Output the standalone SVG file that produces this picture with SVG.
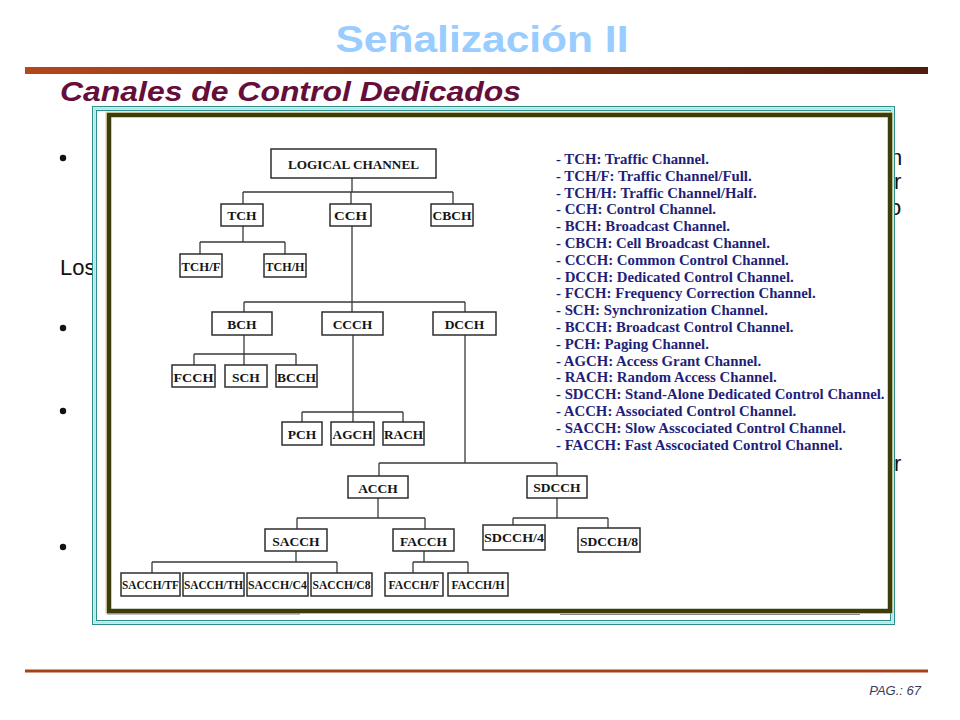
<svg xmlns="http://www.w3.org/2000/svg" width="960" height="720" viewBox="0 0 960 720">
<defs>
<linearGradient id="bar" x1="0" y1="0" x2="1" y2="0">
<stop offset="0" stop-color="#B4471B"/>
<stop offset="1" stop-color="#4F1C0B"/>
</linearGradient>
<style>
.bg{font-family:"Liberation Sans",Arial,sans-serif;font-size:22px;fill:#111}
.nb rect{fill:#fff;stroke:#2e2e2e;stroke-width:1.5}
.nb text{font-family:"Liberation Serif","Times New Roman",serif;font-weight:bold;font-size:13.5px;fill:#151515;text-anchor:middle}
.lg{font-family:"Liberation Serif","Times New Roman",serif;font-weight:bold;font-size:14.8px;fill:#1F1F7A}
#connectors path{fill:none;stroke:#3a3a3a;stroke-width:1.3}
</style>
</defs>
<rect width="960" height="720" fill="#fff"/>
<text x="482" y="52" text-anchor="middle" font-family="Liberation Sans,Arial,sans-serif" font-weight="bold" font-size="37" fill="#99CCFF" textLength="293" lengthAdjust="spacingAndGlyphs">Señalización II</text>
<rect x="25" y="67" width="903" height="7" fill="url(#bar)"/>
<text x="60" y="101" font-family="Liberation Sans,Arial,sans-serif" font-weight="bold" font-style="italic" font-size="27" fill="#650E3A" textLength="461" lengthAdjust="spacingAndGlyphs">Canales de Control Dedicados</text>

<g id="background-text">
<circle cx="63" cy="158" r="3.2" fill="#111"/>
<circle cx="63" cy="328" r="3.2" fill="#111"/>
<circle cx="63" cy="411" r="3.2" fill="#111"/>
<circle cx="63" cy="547" r="3.2" fill="#111"/>
<text class="bg" x="60" y="275">Los</text>
<text class="bg" x="890" y="165">n</text>
<text class="bg" x="894" y="189">r</text>
<text class="bg" x="889" y="215">o</text>
<text class="bg" x="894" y="471">r</text>
</g>

<g id="frame">
<rect x="92.5" y="106.5" width="802" height="518" fill="#fff" stroke="#2E8E8E" stroke-width="1"/>
<rect x="94.5" y="108.5" width="798" height="514" fill="none" stroke="#B5E6E6" stroke-width="2.5"/>
<rect x="96.5" y="110.5" width="794" height="510" fill="#fff" stroke="#2E8E8E" stroke-width="1"/>
<rect x="106" y="112" width="786" height="501" fill="none" stroke="#E9E2B0" stroke-width="1.5"/>
<rect x="109" y="115" width="781" height="496" fill="#fff" stroke="#3D3D0C" stroke-width="4.5"/>
<path d="M107 614 H300 M560 614.5 H860" stroke="#666" stroke-width="0.8" fill="none"/>
</g>

<g id="connectors">
<path d="M352 178 V192 M243 192 H453 M243 192 V204 M351 192 V204 M453 192 V204"/>
<path d="M243 226 V242 M200 242 H285 M200 242 V254 M285 242 V254"/>
<path d="M352 226 V302 M244 302 H465 M244 302 V312 M352 302 V312 M465 302 V312"/>
<path d="M244 335 V354 M194 354 H296 M194 354 V365 M244 354 V365 M296 354 V365"/>
<path d="M353 335 V412 M302 412 H403 M302 412 V422 M353 412 V422 M403 412 V422"/>
<path d="M465 335 V463 M379 463 H557 M379 463 V476 M557 463 V476"/>
<path d="M378 498 V518 M297 518 H425 M297 518 V529 M425 518 V529"/>
<path d="M557 498 V518 M513 518 H608 M513 518 V525 M608 518 V528"/>
<path d="M296 551 V562 M152 562 H337 M152 562 V573 M337 562 V573"/>
<path d="M424 551 V562 M413 562 H468 M413 562 V573 M468 562 V573"/>
</g>

<g class="nb">
<g id="n-logical"><rect x="271" y="149" width="165" height="29"/><text x="353.5" y="168.5" font-size="12.5" textLength="131" lengthAdjust="spacingAndGlyphs">LOGICAL CHANNEL</text></g>
<g id="n-tch"><rect x="221" y="204" width="42" height="22"/><text x="242" y="220">TCH</text></g>
<g id="n-cch"><rect x="330" y="204" width="41" height="22"/><text x="350.5" y="219.5" textLength="33" lengthAdjust="spacingAndGlyphs">CCH</text></g>
<g id="n-cbch"><rect x="431" y="204" width="42" height="22"/><text x="452" y="220" textLength="39" lengthAdjust="spacingAndGlyphs">CBCH</text></g>
<g id="n-tchf"><rect x="180" y="254" width="42" height="23"/><text x="201" y="270.5" textLength="39" lengthAdjust="spacingAndGlyphs">TCH/F</text></g>
<g id="n-tchh"><rect x="264" y="254" width="42" height="23"/><text x="285" y="270.5" textLength="39" lengthAdjust="spacingAndGlyphs">TCH/H</text></g>
<g id="n-bch"><rect x="212" y="312" width="60" height="23"/><text x="242" y="328.5">BCH</text></g>
<g id="n-ccch"><rect x="322" y="312" width="61" height="23"/><text x="352.5" y="328.5">CCCH</text></g>
<g id="n-dcch"><rect x="433" y="312" width="63" height="23"/><text x="464.5" y="328.5">DCCH</text></g>
<g id="n-fcch"><rect x="172" y="365" width="43" height="22"/><text x="193.5" y="381.5" textLength="40" lengthAdjust="spacingAndGlyphs">FCCH</text></g>
<g id="n-sch"><rect x="225" y="365" width="42" height="22"/><text x="246" y="381.5">SCH</text></g>
<g id="n-bcch"><rect x="276" y="365" width="41" height="22"/><text x="296.5" y="381.5" textLength="39" lengthAdjust="spacingAndGlyphs">BCCH</text></g>
<g id="n-pch"><rect x="282" y="422" width="40" height="23"/><text x="302" y="438.5">PCH</text></g>
<g id="n-agch"><rect x="331" y="422" width="43" height="23"/><text x="352.5" y="438.5" textLength="40" lengthAdjust="spacingAndGlyphs">AGCH</text></g>
<g id="n-rach"><rect x="383" y="422" width="41" height="23"/><text x="403.5" y="439" textLength="39" lengthAdjust="spacingAndGlyphs">RACH</text></g>
<g id="n-acch"><rect x="348" y="476" width="60" height="22"/><text x="378" y="492.5">ACCH</text></g>
<g id="n-sdcch"><rect x="527" y="476" width="60" height="22"/><text x="557" y="492">SDCCH</text></g>
<g id="n-sacch"><rect x="265" y="529" width="62" height="22"/><text x="296" y="545.5">SACCH</text></g>
<g id="n-facch"><rect x="393" y="529" width="61" height="22"/><text x="423.5" y="545.5">FACCH</text></g>
<g id="n-sdcch4"><rect x="483" y="525" width="62" height="25"/><text x="514" y="541.5" textLength="60" lengthAdjust="spacingAndGlyphs">SDCCH/4</text></g>
<g id="n-sdcch8"><rect x="578" y="528" width="62" height="24"/><text x="609" y="545.5" textLength="58" lengthAdjust="spacingAndGlyphs">SDCCH/8</text></g>
<g id="n-sacchtf"><rect x="121" y="573" width="59" height="23"/><text x="150.5" y="589" font-size="10.5" textLength="57" lengthAdjust="spacingAndGlyphs">SACCH/TF</text></g>
<g id="n-sacchth"><rect x="183" y="573" width="61" height="23"/><text x="213.5" y="589" font-size="10.5" textLength="59" lengthAdjust="spacingAndGlyphs">SACCH/TH</text></g>
<g id="n-sacchc4"><rect x="247" y="573" width="61" height="23"/><text x="277.5" y="589" font-size="10.5" textLength="59" lengthAdjust="spacingAndGlyphs">SACCH/C4</text></g>
<g id="n-sacchc8"><rect x="311" y="573" width="61" height="23"/><text x="341.5" y="589" font-size="10.5" textLength="58" lengthAdjust="spacingAndGlyphs">SACCH/C8</text></g>
<g id="n-facchf"><rect x="385" y="573" width="58" height="23"/><text x="414" y="589" font-size="10.5" textLength="51" lengthAdjust="spacingAndGlyphs">FACCH/F</text></g>
<g id="n-facchh"><rect x="448" y="573" width="60" height="23"/><text x="478" y="589" font-size="10.5" textLength="53" lengthAdjust="spacingAndGlyphs">FACCH/H</text></g>
</g>

<g id="legend">
<text class="lg" x="556" y="164">- TCH: Traffic Channel.</text>
<text class="lg" x="556" y="180.8">- TCH/F: Traffic Channel/Full.</text>
<text class="lg" x="556" y="197.6">- TCH/H: Traffic Channel/Half.</text>
<text class="lg" x="556" y="214.4">- CCH: Control Channel.</text>
<text class="lg" x="556" y="231.2">- BCH: Broadcast Channel.</text>
<text class="lg" x="556" y="248">- CBCH: Cell Broadcast Channel.</text>
<text class="lg" x="556" y="264.8">- CCCH: Common Control Channel.</text>
<text class="lg" x="556" y="281.6">- DCCH: Dedicated Control Channel.</text>
<text class="lg" x="556" y="298.4">- FCCH: Frequency Correction Channel.</text>
<text class="lg" x="556" y="315.2">- SCH: Synchronization Channel.</text>
<text class="lg" x="556" y="332">- BCCH: Broadcast Control Channel.</text>
<text class="lg" x="556" y="348.8">- PCH: Paging Channel.</text>
<text class="lg" x="556" y="365.6">- AGCH: Access Grant Channel.</text>
<text class="lg" x="556" y="382.4">- RACH: Random Access Channel.</text>
<text class="lg" x="556" y="399.2">- SDCCH: Stand-Alone Dedicated Control Channel.</text>
<text class="lg" x="556" y="416">- ACCH: Associated Control Channel.</text>
<text class="lg" x="556" y="432.8">- SACCH: Slow Asscociated Control Channel.</text>
<text class="lg" x="556" y="449.6">- FACCH: Fast Asscociated Control Channel.</text>
</g>

<rect x="25" y="669.5" width="903" height="3" fill="#A8401A"/>
<text x="921" y="695" text-anchor="end" font-family="Liberation Sans,Arial,sans-serif" font-style="italic" font-size="13" fill="#3A3A5A">PAG.: 67</text>
</svg>
